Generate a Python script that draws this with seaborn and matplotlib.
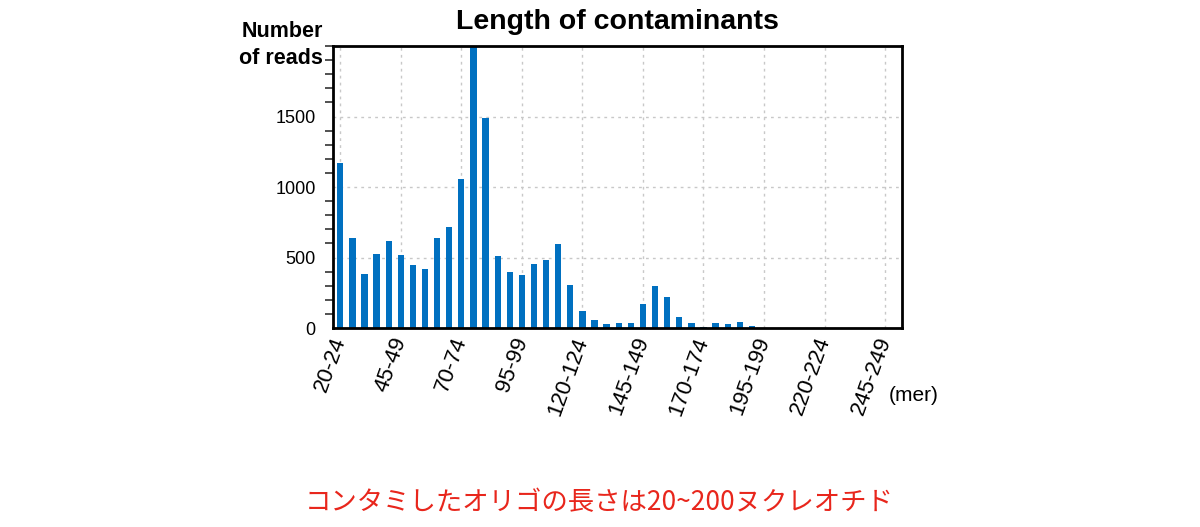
import matplotlib
matplotlib.use("Agg")
import matplotlib.pyplot as plt
import seaborn as sns
import pandas as pd
from matplotlib.ticker import MultipleLocator

# ── data ─────────────────────────────────────────────
bin_starts = list(range(20, 250, 5))
bin_labels = [f"{s}-{s + 4}" for s in bin_starts]
reads = [1170, 640, 380, 525, 615, 515, 445, 415, 640, 715,
         1060, 2100, 1490, 510, 395, 378, 455, 485, 595, 305,
         120, 55, 30, 33, 38, 172, 295, 220, 80, 35,
         10, 32, 25, 40, 15, 0, 0, 0, 0, 0,
         0, 0, 0, 0, 0, 0]
y_ticks = [0, 500, 1000, 1500]
note = "コンタミしたオリゴの長さは20~200ヌクレオチド"

df = pd.DataFrame({"length": bin_labels, "reads": reads})

sns.set_style("white")
plt.rcParams["font.family"] = ["Liberation Sans", "DejaVu Sans"]
plt.rcParams["text.color"] = "black"
plt.rcParams["xtick.color"] = "black"
plt.rcParams["ytick.color"] = "black"

fig = plt.figure(figsize=(12, 5.27), dpi=100)
ax = fig.add_axes([0.2775, 0.3776, 0.4742, 0.5351])

sns.barplot(data=df, x="length", y="reads", color="#0070c0",
            width=0.52, saturation=1, linewidth=0, ax=ax, zorder=3)

ax.set_xlim(-0.6, 46.4)
ax.set_ylim(0, 2000)

# ticks / grid
ax.set_xticks(range(0, len(bin_labels), 5))
ax.set_xticklabels(bin_labels[::5], rotation=70, ha="right", va="center",
                   rotation_mode="anchor", fontsize=16)
ax.set_yticks(y_ticks)
ax.set_yticklabels([str(v) for v in y_ticks], fontsize=13)
ax.yaxis.set_minor_locator(MultipleLocator(100))
ax.tick_params(axis="x", length=0, pad=7)
ax.tick_params(axis="y", which="major", length=9, width=1.5, direction="out", color="#333333")
ax.tick_params(axis="y", which="minor", length=6, width=1.2, direction="out", color="#333333", left=True)
ax.grid(True, which="major", color="#c8c8c8", linestyle=(0, (2, 3)), linewidth=1, zorder=0)
ax.set_axisbelow(True)

for sp in ax.spines.values():
    sp.set_visible(True)
    sp.set_color("black")
    sp.set_linewidth(2)
    sp.set_zorder(5)

ax.set_xlabel("")
ax.set_ylabel("")

# titles / labels
ax.set_title("Length of contaminants", fontsize=20.5, fontweight="bold", pad=12)
fig.text(0.269, 0.915, "Number\nof reads", ha="right", va="center",
         fontsize=15.5, fontweight="bold", linespacing=1.35)
fig.text(0.741, 0.25, "(mer)", ha="left", va="center", fontsize=15)

fig.text(0.499, 0.047, note, ha="center", va="center", color="#e8261c",
         fontsize=19, family=["Noto Sans CJK JP", "DejaVu Sans"])

plt.savefig("out.png", dpi=100)
plt.close()
